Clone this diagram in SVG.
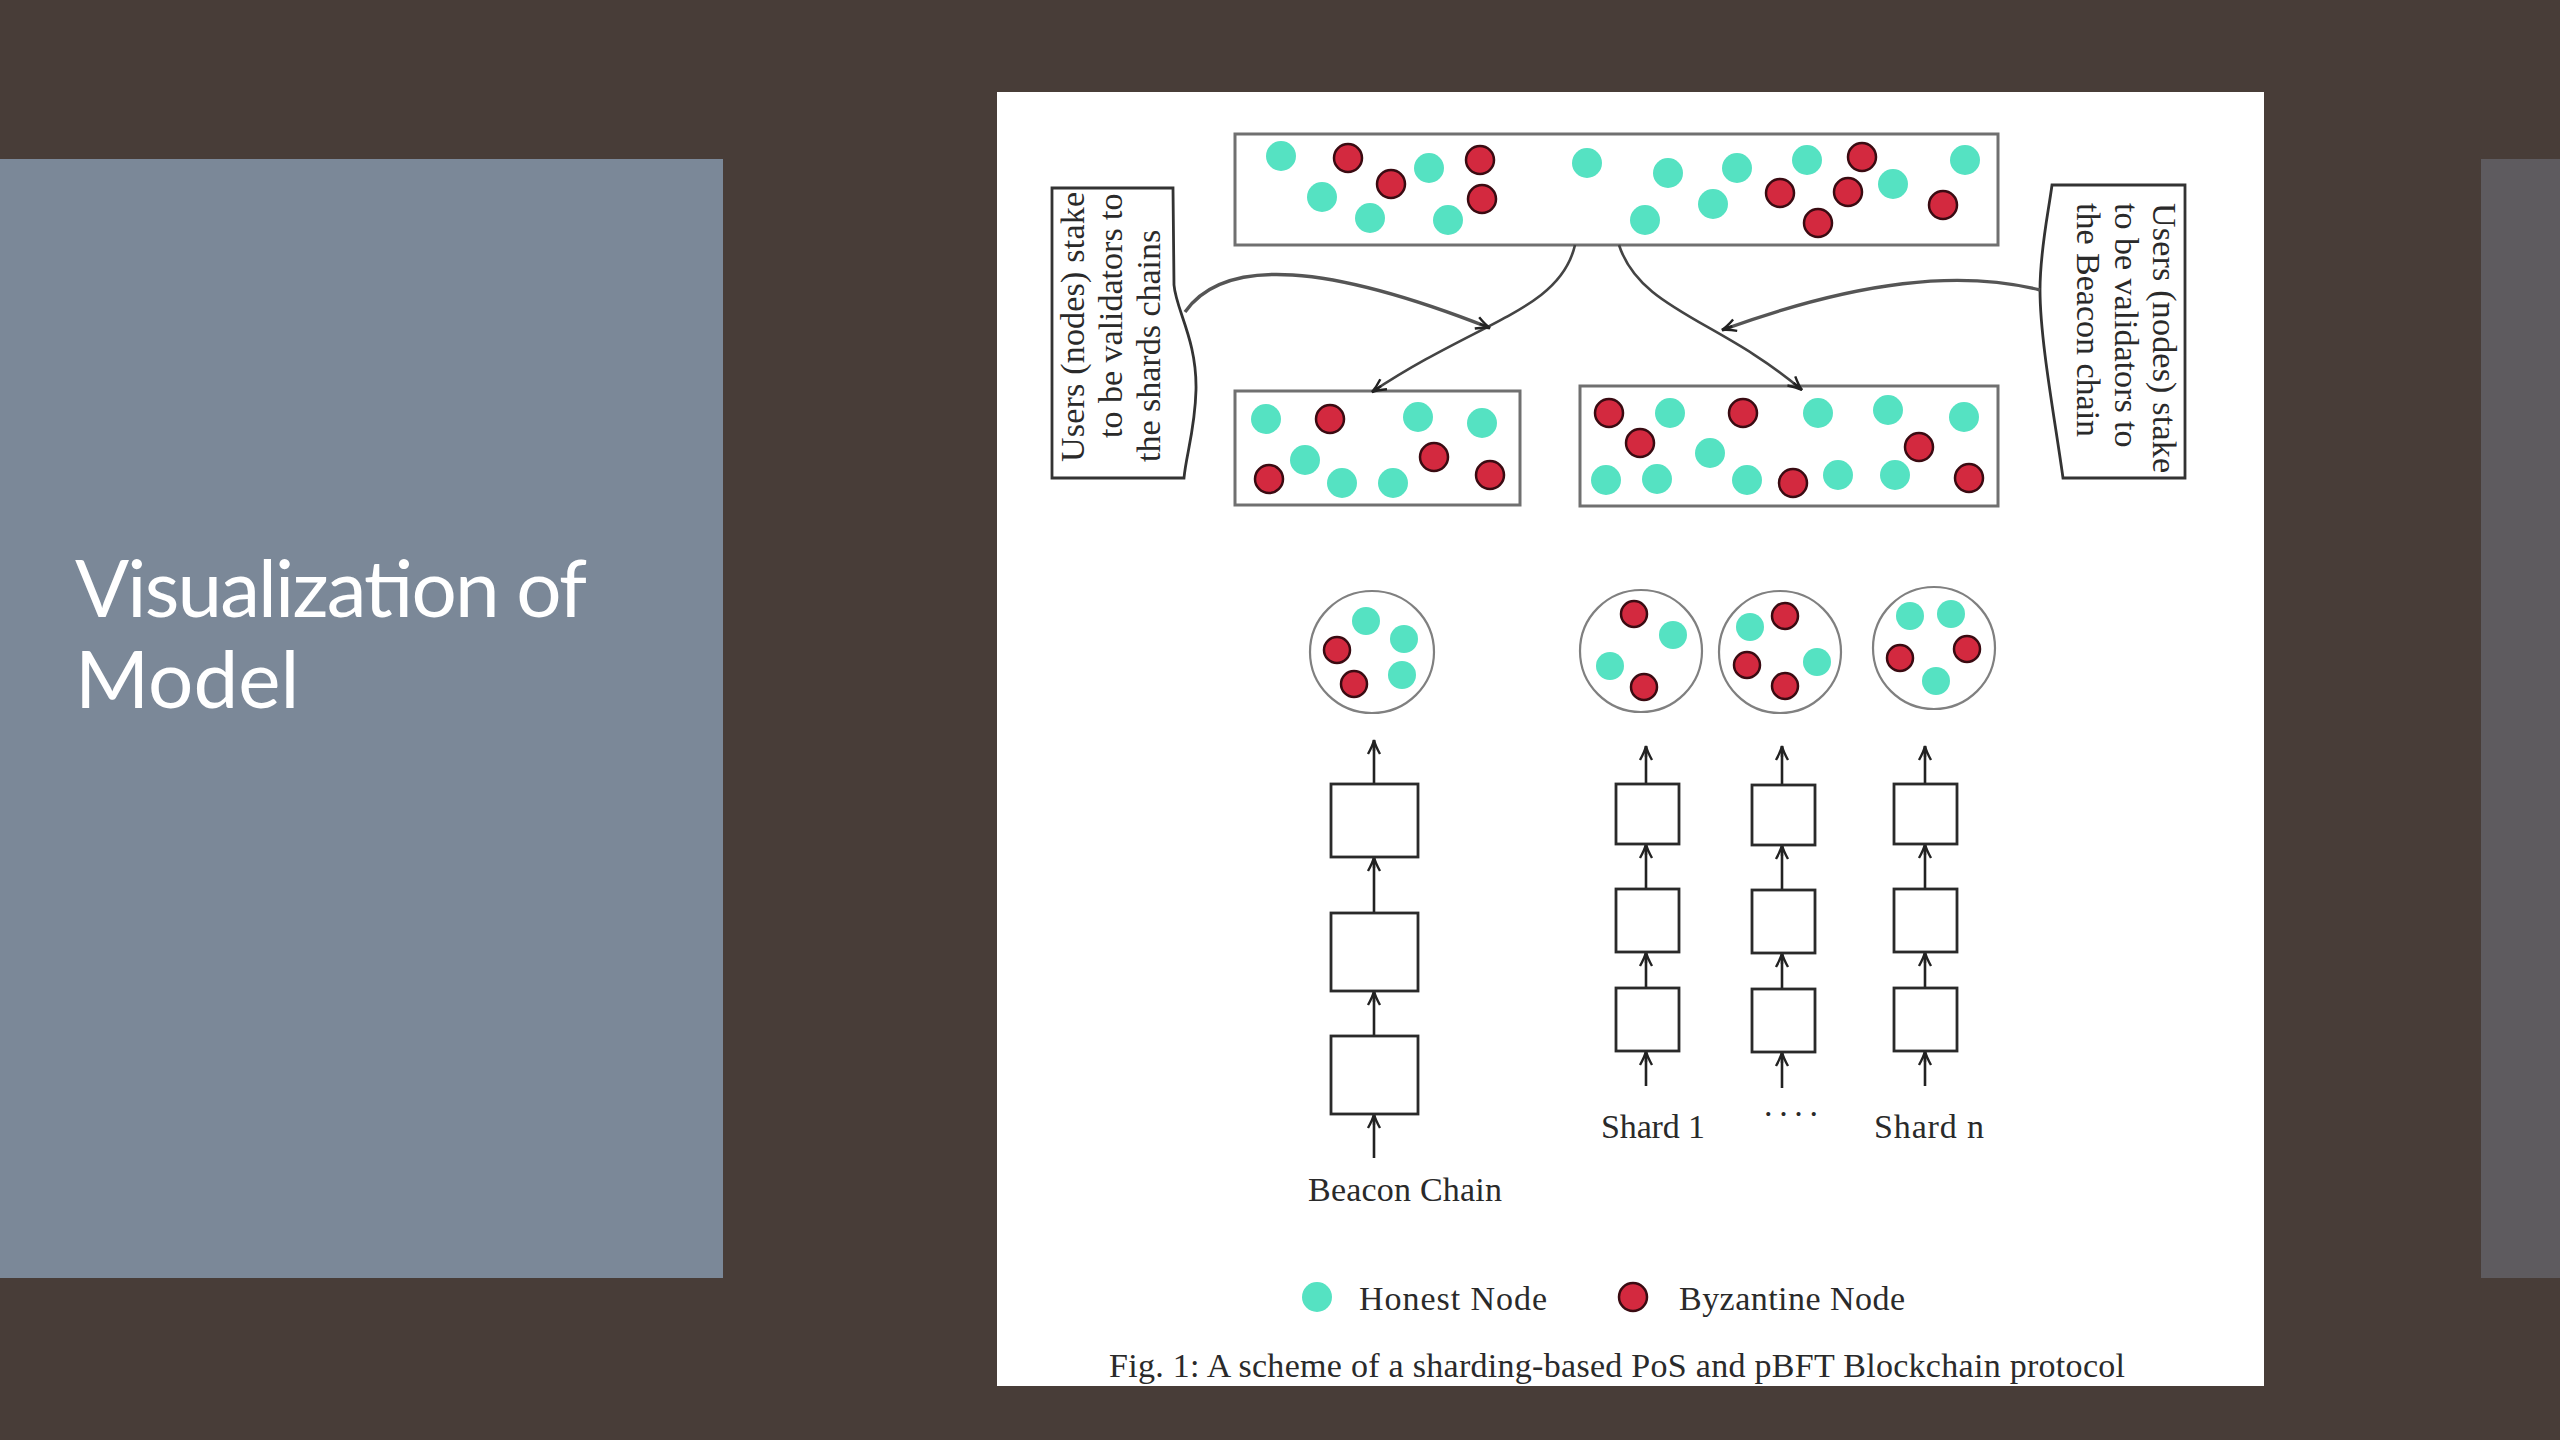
<svg xmlns="http://www.w3.org/2000/svg" width="2560" height="1440" viewBox="0 0 2560 1440">
<defs>
<style>
.h{fill:#55e2c2}
.b{fill:#d3293f;stroke:#3a0b12;stroke-width:2.5}
.pool{fill:#fff;stroke:#707070;stroke-width:3}
.blk{fill:#fff;stroke:#2a2a2a;stroke-width:2.8}
.grp{fill:#fff;stroke:#808080;stroke-width:2.2}
.tb{fill:#fff;stroke:#333;stroke-width:2.8}
.t{font-family:"Liberation Serif","Times New Roman",serif;font-size:34px;fill:#2a2a2a}
.c1{fill:none;stroke:#444;stroke-width:2.6}
.c2{fill:none;stroke:#555;stroke-width:3.4}
.ch{fill:none;stroke:#222;stroke-width:2.6}
</style>
<marker id="ah" viewBox="-16 -8 18 16" markerWidth="18" markerHeight="16" refX="0" refY="0" orient="auto" markerUnits="userSpaceOnUse" overflow="visible">
<path d="M-14,-6 Q-6,-1.5 0,0 Q-6,1.5 -14,6 M-11,0 L0,0" fill="none" stroke="#222" stroke-width="2.4"/>
</marker>
</defs>
<rect x="0" y="0" width="2560" height="1440" fill="#483d38"/>
<rect x="0" y="159" width="723" height="1119" fill="#7b8898"/>
<rect x="2481" y="159" width="79" height="1119" fill="#5e5b5f"/>
<g id="title" font-family="Lato,'Open Sans',sans-serif" font-size="80" fill="#ffffff">
<text x="75" y="617" textLength="512">Visualization of</text>
<text x="75" y="708">Model</text>
</g>
<rect x="997" y="92" width="1267" height="1294" fill="#ffffff"/>

<g id="pool-main">
<rect class="pool" x="1235" y="134" width="763" height="111"/>
<circle class="h" cx="1281" cy="156" r="15"/>
<circle class="b" cx="1348" cy="158" r="14"/>
<circle class="h" cx="1429" cy="168" r="15"/>
<circle class="b" cx="1480" cy="160" r="14"/>
<circle class="h" cx="1322" cy="197" r="15"/>
<circle class="b" cx="1391" cy="184" r="14"/>
<circle class="b" cx="1482" cy="199" r="14"/>
<circle class="h" cx="1370" cy="218" r="15"/>
<circle class="h" cx="1448" cy="220" r="15"/>
<circle class="h" cx="1587" cy="163" r="15"/>
<circle class="h" cx="1668" cy="173" r="15"/>
<circle class="h" cx="1737" cy="168" r="15"/>
<circle class="h" cx="1807" cy="160" r="15"/>
<circle class="b" cx="1862" cy="157" r="14"/>
<circle class="h" cx="1965" cy="160" r="15"/>
<circle class="h" cx="1713" cy="204" r="15"/>
<circle class="b" cx="1780" cy="193" r="14"/>
<circle class="b" cx="1848" cy="192" r="14"/>
<circle class="h" cx="1893" cy="184" r="15"/>
<circle class="b" cx="1943" cy="205" r="14"/>
<circle class="h" cx="1645" cy="220" r="15"/>
<circle class="b" cx="1818" cy="223" r="14"/>
</g>

<g id="pool-left">
<rect class="pool" x="1235" y="391" width="285" height="114"/>
<circle class="h" cx="1266" cy="419" r="15"/>
<circle class="b" cx="1330" cy="419" r="14"/>
<circle class="h" cx="1418" cy="417" r="15"/>
<circle class="h" cx="1482" cy="423" r="15"/>
<circle class="h" cx="1305" cy="460" r="15"/>
<circle class="b" cx="1434" cy="457" r="14"/>
<circle class="b" cx="1490" cy="475" r="14"/>
<circle class="b" cx="1269" cy="479" r="14"/>
<circle class="h" cx="1342" cy="483" r="15"/>
<circle class="h" cx="1393" cy="483" r="15"/>
</g>

<g id="pool-right">
<rect class="pool" x="1580" y="386" width="418" height="120"/>
<circle class="b" cx="1609" cy="413" r="14"/>
<circle class="h" cx="1670" cy="413" r="15"/>
<circle class="b" cx="1743" cy="413" r="14"/>
<circle class="h" cx="1818" cy="413" r="15"/>
<circle class="h" cx="1888" cy="410" r="15"/>
<circle class="h" cx="1964" cy="417" r="15"/>
<circle class="b" cx="1640" cy="443" r="14"/>
<circle class="h" cx="1710" cy="453" r="15"/>
<circle class="b" cx="1919" cy="447" r="14"/>
<circle class="h" cx="1606" cy="480" r="15"/>
<circle class="h" cx="1657" cy="479" r="15"/>
<circle class="h" cx="1747" cy="480" r="15"/>
<circle class="b" cx="1793" cy="483" r="14"/>
<circle class="h" cx="1838" cy="475" r="15"/>
<circle class="h" cx="1895" cy="475" r="15"/>
<circle class="b" cx="1969" cy="478" r="14"/>
</g>

<g id="note-left">
<path class="tb" d="M1052,188 L1173,188 L1174,285 C1176,310 1197,340 1196,390 C1195,430 1186,455 1184,478 L1052,478 Z"/>
<text class="t" transform="translate(1084,462) rotate(-90)" textLength="270">Users (nodes) stake</text>
<text class="t" transform="translate(1122,438) rotate(-90)">to be validators to</text>
<text class="t" transform="translate(1160,462) rotate(-90)">the shards chains</text>
</g>

<g id="note-right">
<path class="tb" d="M2052,185 L2185,185 L2185,478 L2063,478 C2055,420 2040,340 2040,290 C2040,250 2048,215 2052,185 Z"/>
<text class="t" transform="translate(2153,203) rotate(90)" textLength="270">Users (nodes) stake</text>
<text class="t" transform="translate(2115,203) rotate(90)">to be validators to</text>
<text class="t" transform="translate(2077,203) rotate(90)">the Beacon chain</text>
</g>

<g id="connectors">
<path class="c1" d="M1575,245 C1560,310 1480,320 1372,392" marker-end="url(#ah)"/>
<path class="c1" d="M1619,245 C1640,310 1720,320 1802,390" marker-end="url(#ah)"/>
<path class="c2" d="M1185,312 C1225,255 1330,265 1490,328" marker-end="url(#ah)"/>
<path class="c2" d="M2040,290 C1960,270 1860,280 1722,330" marker-end="url(#ah)"/>

<path class="ch" d="M1374,1158 L1374,1114" marker-end="url(#ah)"/>
<path class="ch" d="M1374,1036 L1374,991" marker-end="url(#ah)"/>
<path class="ch" d="M1374,913 L1374,857" marker-end="url(#ah)"/>
<path class="ch" d="M1374,784 L1374,740" marker-end="url(#ah)"/>

<path class="ch" d="M1646,1086 L1646,1051" marker-end="url(#ah)"/>
<path class="ch" d="M1646,988 L1646,952" marker-end="url(#ah)"/>
<path class="ch" d="M1646,889 L1646,844" marker-end="url(#ah)"/>
<path class="ch" d="M1646,784 L1646,746" marker-end="url(#ah)"/>

<path class="ch" d="M1782,1088 L1782,1052" marker-end="url(#ah)"/>
<path class="ch" d="M1782,989 L1782,953" marker-end="url(#ah)"/>
<path class="ch" d="M1782,890 L1782,845" marker-end="url(#ah)"/>
<path class="ch" d="M1782,785 L1782,746" marker-end="url(#ah)"/>

<path class="ch" d="M1925,1086 L1925,1051" marker-end="url(#ah)"/>
<path class="ch" d="M1925,988 L1925,952" marker-end="url(#ah)"/>
<path class="ch" d="M1925,889 L1925,844" marker-end="url(#ah)"/>
<path class="ch" d="M1925,784 L1925,746" marker-end="url(#ah)"/>
</g>

<g id="beacon-validators">
<ellipse class="grp" cx="1372" cy="652" rx="62" ry="61"/>
<circle class="h" cx="1366" cy="621" r="14"/>
<circle class="h" cx="1404" cy="639" r="14"/>
<circle class="b" cx="1337" cy="650" r="13"/>
<circle class="h" cx="1402" cy="675" r="14"/>
<circle class="b" cx="1354" cy="684" r="13"/>
</g>
<g id="shard1-validators">
<circle class="grp" cx="1641" cy="651" r="61"/>
<circle class="b" cx="1634" cy="614" r="13"/>
<circle class="h" cx="1673" cy="635" r="14"/>
<circle class="h" cx="1610" cy="666" r="14"/>
<circle class="b" cx="1644" cy="687" r="13"/>
</g>
<g id="shard2-validators">
<circle class="grp" cx="1780" cy="652" r="61"/>
<circle class="h" cx="1750" cy="627" r="14"/>
<circle class="b" cx="1785" cy="616" r="13"/>
<circle class="b" cx="1747" cy="665" r="13"/>
<circle class="h" cx="1817" cy="662" r="14"/>
<circle class="b" cx="1785" cy="686" r="13"/>
</g>
<g id="shardn-validators">
<circle class="grp" cx="1934" cy="648" r="61"/>
<circle class="h" cx="1910" cy="616" r="14"/>
<circle class="h" cx="1951" cy="614" r="14"/>
<circle class="b" cx="1900" cy="658" r="13"/>
<circle class="b" cx="1967" cy="649" r="13"/>
<circle class="h" cx="1936" cy="681" r="14"/>
</g>

<g id="beacon-chain">
<rect class="blk" x="1331" y="784" width="87" height="73"/>
<rect class="blk" x="1331" y="913" width="87" height="78"/>
<rect class="blk" x="1331" y="1036" width="87" height="78"/>
<text class="t" x="1308" y="1201" textLength="194">Beacon Chain</text>
</g>
<g id="shard1-chain">
<rect class="blk" x="1616" y="784" width="63" height="60"/>
<rect class="blk" x="1616" y="889" width="63" height="63"/>
<rect class="blk" x="1616" y="988" width="63" height="63"/>
<text class="t" x="1601" y="1138" textLength="104">Shard 1</text>
</g>
<g id="shard2-chain">
<rect class="blk" x="1752" y="785" width="63" height="60"/>
<rect class="blk" x="1752" y="890" width="63" height="63"/>
<rect class="blk" x="1752" y="989" width="63" height="63"/>
<text class="t" x="1764" y="1116" textLength="54">. . . .</text>
</g>
<g id="shardn-chain">
<rect class="blk" x="1894" y="784" width="63" height="60"/>
<rect class="blk" x="1894" y="889" width="63" height="63"/>
<rect class="blk" x="1894" y="988" width="63" height="63"/>
<text class="t" x="1874" y="1138" textLength="110">Shard n</text>
</g>

<g id="legend">
<circle class="h" cx="1317" cy="1297" r="15"/>
<text class="t" x="1359" y="1310" textLength="188">Honest Node</text>
<circle class="b" cx="1633" cy="1297" r="14"/>
<text class="t" x="1679" y="1310" textLength="226">Byzantine Node</text>
</g>
<g id="caption">
<text class="t" x="1109" y="1377" textLength="1016">Fig. 1: A scheme of a sharding-based PoS and pBFT Blockchain protocol</text>
</g>
</svg>
